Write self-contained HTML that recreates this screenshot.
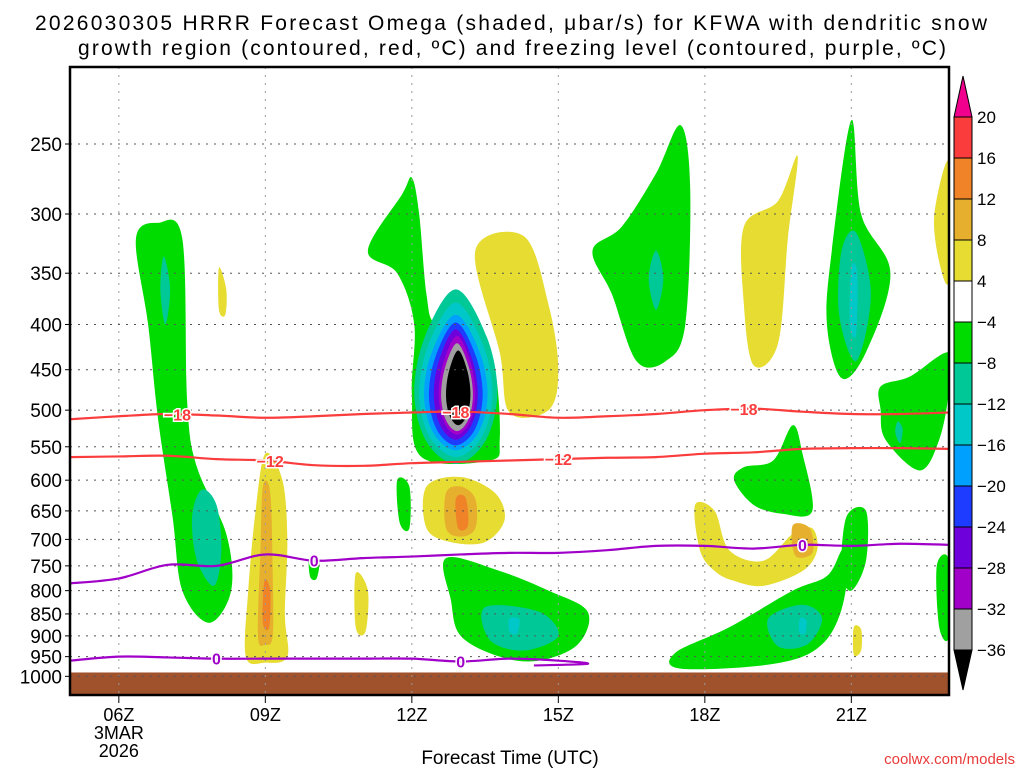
<!DOCTYPE html>
<html><head><meta charset="utf-8"><style>
body{margin:0;background:#fff;width:1024px;height:768px;overflow:hidden}
svg{display:block;font-family:"Liberation Sans",sans-serif}
</style></head><body>
<svg id="c" width="1024" height="768" viewBox="0 0 1024 768">
<text x="35" y="30" font-size="21" textLength="952">2026030305 HRRR Forecast Omega (shaded, μbar/s) for KFWA with dendritic snow</text>
<text x="78" y="55" font-size="21" textLength="868">growth region (contoured, red, ºC) and freezing level (contoured, purple, ºC)</text>
<g id="plot"></g>
<text x="510" y="764" font-size="19" text-anchor="middle">Forecast Time (UTC)</text>
<text x="1015" y="764" font-size="15" fill="#e83a3a" text-anchor="end">coolwx.com/models</text>
</svg>
<script>
// ---- data ----
const xTickHours=[6,9,12,15,18,21];
const xTickLabels=["06Z","09Z","12Z","15Z","18Z","21Z"];
const yTicks=[250,300,350,400,450,500,550,600,650,700,750,800,850,900,950,1000];
const cbLevels=[20,16,12,8,4,-4,-8,-12,-16,-20,-24,-28,-32,-36];
const cbColors=["#f0008c","#fa3c3c","#f08228","#e6af2d","#e6dc32","#ffffff","#00dc00","#00c896","#00c8c8","#00a0ff","#1e3cff","#6e00dc","#a000c8","#a0a0a0","#000000"];
const levelColor={"4":"#e6dc32","8":"#e6af2d","12":"#f08228","-4":"#00dc00","-8":"#00c896","-12":"#00c8c8","-16":"#00a0ff","-20":"#1e3cff","-24":"#6e00dc","-28":"#a000c8","-32":"#a0a0a0","-36":"#000000"};
// polygon blobs: level + vertices [hour, hPa]
const blobLevels=[-4,-8,-8,4,8,12,4,4,-4,-4,-4, 4,-4,-8,-12, 4,-4,-8,4,-4,-8,-12,4,-4,-8,-4,-4,4,8,-4,-8,-12,-4,4,8,12];
const blobShapes=[
 [[6.35,320],[6.8,307],[7.3,320],[7.4,490],[7.6,580],[8.2,690],[8.3,800],[7.85,870],[7.3,800],[7.1,660],[6.8,510],[6.6,400]],
 [[6.92,335],[7.05,365],[6.95,400],[6.85,365]],
 [[7.7,615],[8.0,640],[8.1,720],[7.95,790],[7.6,740],[7.5,660]],
 [[9.0,560],[9.35,600],[9.45,700],[9.4,850],[9.45,950],[9.0,965],[8.6,950],[8.65,800],[8.8,650]],
 [[8.95,610],[9.1,620],[9.15,760],[9.15,900],[9.0,920],[8.85,900],[8.9,720]],
 [[8.98,780],[9.1,800],[9.08,880],[8.95,870]],
 [[8.05,345],[8.2,365],[8.18,390],[8.05,385]],
 [[10.85,765],[11.1,800],[11.05,890],[10.85,880]],
 [[9.9,735],[10.1,740],[10.05,775],[9.92,772]],
 [[11.7,600],[11.95,610],[11.95,680],[11.75,670]],
 [[11.1,330],[11.8,285],[12.0,273],[12.15,300],[12.3,370],[12.5,400],[13.3,405],[13.7,450],[13.8,540],[13.6,570],[12.2,565],[12.0,480],[12.05,400],[11.7,350]],
 [[13.3,330],[14.3,318],[14.8,380],[15.0,450],[14.8,500],[14.0,503],[13.8,430]],
 [[12.7,735],[13.8,760],[14.8,800],[15.6,845],[15.4,920],[14.6,960],[13.8,950],[13.0,900],[12.8,820]],
 [[13.5,835],[14.6,845],[15.0,900],[14.3,935],[13.6,910]],
 [[14.0,860],[14.2,862],[14.15,895],[14.0,890]],
 [[12.3,610],[13.0,595],[13.7,620],[13.9,665],[13.5,705],[12.8,705],[12.3,680]],
 [[15.7,330],[16.3,310],[17.0,270],[17.5,238],[17.7,280],[17.6,400],[17.2,440],[16.6,440],[16.1,370]],
 [[17.0,330],[17.15,355],[17.0,385],[16.85,355]],
 [[18.8,310],[19.5,290],[19.9,258],[19.7,320],[19.5,420],[19.0,445],[18.8,380]],
 [[20.6,330],[21.0,235],[21.2,300],[21.8,350],[21.3,430],[20.8,460],[20.5,400]],
 [[20.8,330],[21.1,315],[21.4,370],[21.1,440],[20.75,390]],
 [[21.0,345],[21.12,350],[21.1,410],[20.97,400]],
 [[22.7,300],[23.0,262],[23.0,355],[22.8,340]],
 [[21.6,470],[22.2,458],[23.0,430],[23.0,475],[22.8,540],[22.4,585],[21.7,540],[21.6,500]],
 [[21.95,515],[22.05,525],[22.0,545],[21.9,530]],
 [[22.75,750],[23.0,740],[23.0,900],[22.8,880]],
 [[19.4,570],[19.8,520],[20.0,560],[20.2,650],[19.6,655],[19.0,640],[18.6,600],[18.8,580]],
 [[17.8,640],[18.2,650],[18.5,720],[19.2,740],[19.8,690],[20.2,680],[20.3,720],[20.0,760],[19.2,790],[18.6,780],[18.2,760],[17.9,720]],
 [[19.8,675],[20.15,680],[20.2,725],[19.85,730]],
 [[17.4,940],[18.5,880],[19.8,800],[20.5,770],[20.8,720],[21.0,700],[20.8,840],[20.3,930],[19.3,970],[17.5,980]],
 [[19.3,860],[20.0,830],[20.4,860],[20.1,920],[19.5,925]],
 [[19.95,860],[20.08,865],[20.05,895],[19.93,890]],
 [[20.9,660],[21.3,650],[21.3,740],[21.0,800],[20.8,760]],
 [[21.05,880],[21.2,885],[21.2,935],[21.05,945]],
 [[12.7,620],[13.0,610],[13.3,630],[13.3,680],[13.0,695],[12.7,680]],
 [[12.9,630],[13.1,628],[13.15,675],[12.95,680]]
];
// core of the 13Z omega maximum: nested ellipses
const coreLevels=[-8,-12,-16,-20,-24,-28,-32,-36];
const coreLeft=[12.05,12.15,12.25,12.35,12.45,12.55,12.6,12.7];
const coreRight=[13.75,13.65,13.55,13.45,13.35,13.3,13.25,13.2];
const coreTop=[365,378,390,398,405,412,420,428];
const coreBottom=[575,565,555,548,540,533,528,520];
// contour lines
const lineHours=[5,6,7,8,9,10,11,12,13,14,15,16,17,18,19,20,21,22,23];
const dgzTop=[512,508,505,507,510,508,505,503,502,505,510,508,505,500,498,502,505,505,503];
const dgzBottom=[565,564,563,568,570,577,578,574,572,570,568,566,565,560,558,553,552,552,553];
const frzUpper=[785,775,748,750,728,740,735,732,728,725,725,720,712,712,717,710,712,708,710];
const lowHours=[5,6,7,8,9,10,11,12,13,14,15,15.6,14.5];
const frzLower=[960,950,952,955,955,955,955,955,962,955,960,968,972];
// ---- axes ----
const X0=70,X1=949,Y0=67,Y1=695,H0=5,H1=23;
const xS=h=>X0+(h-H0)/(H1-H0)*(X1-X0);
const yS=p=>144+384*Math.log(p/250);
const NS="http://www.w3.org/2000/svg";
const plot=document.getElementById('plot');
function mk(tag,attrs,parent){const e=document.createElementNS(NS,tag);for(const k in attrs)e.setAttribute(k,attrs[k]);(parent||plot).appendChild(e);return e;}
function smooth(pts,closed){
 const n=pts.length;let d=`M${pts[0][0]},${pts[0][1]}`;
 const g=i=>closed?pts[(i+n)%n]:pts[Math.max(0,Math.min(n-1,i))];
 const m=closed?n:n-1;
 for(let i=0;i<m;i++){const p0=g(i-1),p1=g(i),p2=g(i+1),p3=g(i+2);
  d+=`C${p1[0]+(p2[0]-p0[0])/6},${p1[1]+(p2[1]-p0[1])/6} ${p2[0]-(p3[0]-p1[0])/6},${p2[1]-(p3[1]-p1[1])/6} ${p2[0]},${p2[1]}`;}
 return d+(closed?'Z':'');
}
const clip=mk('clipPath',{id:'pc'});mk('rect',{x:X0,y:Y0,width:X1-X0,height:Y1-Y0},clip);
const sh=mk('g',{'clip-path':'url(#pc)'});


blobShapes.forEach((s,i)=>{
 const el=mk('path',{d:smooth(s.map(v=>[xS(v[0]),yS(v[1])]),true),fill:levelColor[blobLevels[i]]},sh);
 
 
});
coreLevels.forEach((l,i)=>{
 const cx=(xS(coreLeft[i])+xS(coreRight[i]))/2,rx=(xS(coreRight[i])-xS(coreLeft[i]))/2;
 const t=yS(coreTop[i]),b=yS(coreBottom[i]),cy=(t+b)/2,ry=(b-t)/2;
 const pts=[[cx,t],[cx+rx*0.75,cy-ry*0.45],[cx+rx,cy+ry*0.2],[cx+rx*0.7,cy+ry*0.75],[cx,b],[cx-rx*0.7,cy+ry*0.75],[cx-rx,cy+ry*0.2],[cx-rx*0.75,cy-ry*0.45]];
 const el=mk('path',{d:smooth(pts,true),fill:levelColor[l]},sh);
 
 
});
// ground
const gr=mk('rect',{x:X0,y:yS(990),width:X1-X0,height:Y1-yS(990),fill:'#a0522d'});


// grid
xTickHours.forEach((h,i)=>{
 const gl=mk('line',{x1:xS(h),x2:xS(h),y1:Y0,y2:Y1,stroke:'#999','stroke-dasharray':'2,6'});
 
 
 mk('line',{x1:xS(h),x2:xS(h),y1:Y1,y2:Y1+8,stroke:'#000'});
 const t=mk('text',{x:xS(h),y:721,'font-size':18,'text-anchor':'middle'});t.textContent=xTickLabels[i];
 
 
});
yTicks.forEach(p=>{
 const gl=mk('line',{x1:X0,x2:X1,y1:yS(p),y2:yS(p),stroke:'#555','stroke-dasharray':'2,6'});
 
 
 mk('line',{x1:X0-5,x2:X0,y1:yS(p),y2:yS(p),stroke:'#000'});
 const t=mk('text',{x:X0-8,y:yS(p)+7,'font-size':19,'text-anchor':'end'});t.textContent=p;
 
 
});
const d1=mk('text',{x:xS(6),y:739,'font-size':18,'text-anchor':'middle'});d1.textContent='3MAR';


const d2=mk('text',{x:xS(6),y:757,'font-size':18,'text-anchor':'middle'});d2.textContent='2026';


// contour lines
function contour(hrs,ps,color,name,labels,lab){
 const el=mk('path',{d:smooth(hrs.map((h,i)=>[xS(h),yS(ps[i])]),false),fill:'none',stroke:color,'stroke-width':2.2,'clip-path':'url(#pc)'});
 
 
 labels.forEach(h=>{
  let i=0;while(i<hrs.length-2&&hrs[i+1]<h)i++;
  const f=(h-hrs[i])/(hrs[i+1]-hrs[i]);const p=ps[i]+(ps[i+1]-ps[i])*f;
  const t=mk('text',{x:xS(h),y:yS(p)+6,'font-size':16,'font-weight':'bold',fill:color,'text-anchor':'middle',stroke:'#fff','stroke-width':3,'paint-order':'stroke'});t.textContent=lab;
  
  
 });
}
contour(lineHours,dgzTop,'#fa3c3c','dgz-minus18-line',[7.2,12.9,18.8],'−18');
contour(lineHours,dgzBottom,'#fa3c3c','dgz-minus12-line',[9.1,15.0],'−12');
contour(lineHours,frzUpper,'#a000c8','freezing-level-upper',[10.0,20.0],'0');
contour(lowHours,frzLower,'#a000c8','freezing-level-lower',[8.0,13.0],'0');
// frame
const fr=mk('rect',{x:X0,y:Y0,width:X1-X0,height:Y1-Y0,fill:'none',stroke:'#000','stroke-width':2.5});


// colorbar
const cb=mk('g',{});


const CX=954,CW=18,CT=117,CS=41;
mk('path',{d:`M${CX},${CT}L${CX+CW/2},76L${CX+CW},${CT}Z`,fill:cbColors[0],stroke:'#000'},cb);
for(let i=1;i<cbColors.length-1;i++){
 mk('rect',{x:CX,y:CT+(i-1)*CS,width:CW,height:CS,fill:cbColors[i],stroke:'#000'},cb);
}
const cbB=CT+(cbColors.length-2)*CS;
mk('path',{d:`M${CX},${cbB}L${CX+CW/2},${cbB+40}L${CX+CW},${cbB}Z`,fill:'#000',stroke:'#000'},cb);
cbLevels.forEach((l,i)=>{
 const t=mk('text',{x:977,y:CT+i*CS+6,'font-size':17},cb);t.textContent=l<0?'−'+(-l):l;
 
 
});
</script>
</body></html>
